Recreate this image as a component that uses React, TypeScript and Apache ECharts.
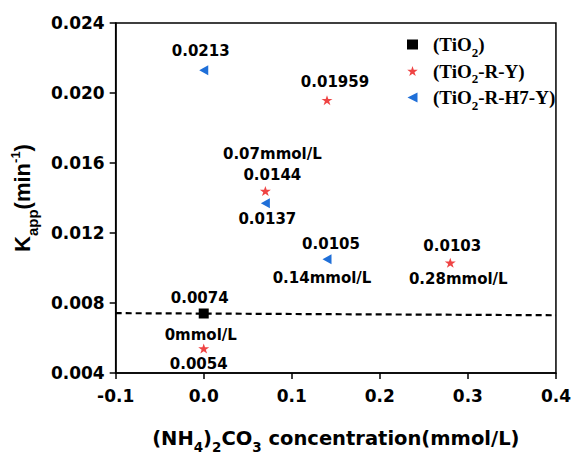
import React, { useEffect, useRef } from "react";
import * as echarts from "echarts";

// ---- data ----
const tiX = [0];
const tiY = [0.0074];
const tiLabels = ["0.0074"];

const ryX = [0, 0.07, 0.14, 0.28];
const ryY = [0.0054, 0.0144, 0.01959, 0.0103];
const ryLabels = ["0.0054", "0.0144", "0.01959", "0.0103"];

const h7X = [0, 0.07, 0.14];
const h7Y = [0.0213, 0.0137, 0.0105];
const h7Labels = ["0.0213", "0.0137", "0.0105"];

const concX = [0, 0.07, 0.14, 0.28];
const concY = [0.0074, 0.0144, 0.0105, 0.0103];
const concLabels = ["0mmol/L", "0.07mmol/L", "0.14mmol/L", "0.28mmol/L"];

const dashX = [-0.1, 0.4];
const dashY = [0.00742, 0.0073];

const xTicks = { min: -0.1, max: 0.4, interval: 0.1 };
const yTicks = { min: 0.004, max: 0.024, interval: 0.004 };

const seriesNames = ["TiO2", "TiO2-R-Y", "TiO2-R-H7-Y"];

// ---- label offsets (style) ----
const tiOffsets = [[-4, -16]];
const ryOffsets = [[-5, 15], [7, -16], [8, -18], [2, -17]];
const h7Offsets = [[-3, -19], [2, 16], [4, -15]];
const concOffsets = [[-3, 21], [7, -37], [-5, 19], [8, 16]];

const STAR =
  "path://M50,0L61.23,34.55L97.55,34.55L68.16,55.9L79.39,90.45L50,69.1L20.61,90.45L31.84,55.9L2.45,34.55L38.77,34.55Z";
const LEFT_TRI = "path://M0,50L100,0L100,100Z";

const SANS = "'DejaVu Sans', Arial, sans-serif";
const ARIAL = "'Liberation Sans', Arial, sans-serif";
const SERIF = "'Liberation Serif', 'Times New Roman', serif";

const labelStyle = {
  fontFamily: SANS,
  fontWeight: "bold" as const,
  fontSize: 15,
  color: "#000",
};

function pts(xs: number[], ys: number[], labels: string[], offs: number[][]) {
  return xs.map((x, i) => ({
    value: [x, ys[i]],
    label: {
      show: true,
      position: "inside",
      offset: offs[i],
      formatter: labels[i],
      ...labelStyle,
    },
  }));
}

export default function App() {
  const ref = useRef<HTMLDivElement>(null);
  useEffect(() => {
    if (!ref.current) return;
    const chart = echarts.init(ref.current, undefined, { renderer: "svg" });
    const legendRich = {
      b: { fontFamily: SERIF, fontWeight: "bold", fontSize: 19, color: "#000", lineHeight: 22, verticalAlign: "middle" },
      s: { fontFamily: SERIF, fontWeight: "bold", fontSize: 13, color: "#000", lineHeight: 22, verticalAlign: "bottom", padding: [0, 0, -3, 0] },
    };
    const legendText: Record<string, string> = {
      "TiO2": "{b|(TiO}{s|2}{b|)}",
      "TiO2-R-Y": "{b|(TiO}{s|2}{b|-R-Y)}",
      "TiO2-R-H7-Y": "{b|(TiO}{s|2}{b|-R-H7-Y)}",
    };
    const option: any = {
      animation: false,
      backgroundColor: "#fff",
      grid: {
        left: 107,
        right: 15,
        top: 23,
        bottom: 73,
        show: true,
        borderColor: "#000",
        borderWidth: 1.5,
        backgroundColor: "transparent",
      },
      legend: {
        data: [
          { name: seriesNames[0], icon: "rect" },
          { name: seriesNames[1], icon: STAR },
          { name: seriesNames[2], icon: LEFT_TRI },
        ],
        orient: "vertical",
        left: 402,
        top: 30,
        itemGap: 3,
        itemWidth: 11,
        itemHeight: 10,
        formatter: (n: string) => legendText[n],
        textStyle: { rich: legendRich, padding: [0, 0, 0, 10] },
      },
      xAxis: {
        type: "value",
        min: xTicks.min,
        max: xTicks.max,
        interval: xTicks.interval,
        splitLine: { show: false },
        axisLine: { show: true, onZero: false, lineStyle: { color: "#000", width: 1.5 } },
        axisTick: { show: true, length: 6, lineStyle: { color: "#000", width: 1.5 } },
        axisLabel: {
          margin: 14,
          fontFamily: SANS,
          fontWeight: "bold",
          fontSize: 17,
          color: "#000",
          formatter: (v: number) => v.toFixed(1),
        },
        name: "{b|(NH}{s|4}{b|)}{s|2}{b|CO}{s|3}{b| concentration(mmol/L)}",
        nameLocation: "middle",
        nameGap: 53,
        nameTextStyle: {
          rich: {
            b: { fontFamily: SANS, fontWeight: "bold", fontSize: 19.5, color: "#000", lineHeight: 24, verticalAlign: "middle" },
            s: { fontFamily: SANS, fontWeight: "bold", fontSize: 13.5, color: "#000", lineHeight: 24, verticalAlign: "bottom", padding: [0, 0, -4, 0] },
          },
        },
      },
      yAxis: {
        type: "value",
        min: yTicks.min,
        max: yTicks.max,
        interval: yTicks.interval,
        splitLine: { show: false },
        axisLine: { show: true, onZero: false, lineStyle: { color: "#000", width: 1.5 } },
        axisTick: { show: true, length: 6, lineStyle: { color: "#000", width: 1.5 } },
        axisLabel: {
          margin: 11,
          fontFamily: SANS,
          fontWeight: "bold",
          fontSize: 17,
          color: "#000",
          formatter: (v: number) => v.toFixed(3),
        },
        name: "{b|K}{s|app}{b|(min}{u|-1}{b|)}",
        nameLocation: "middle",
        nameGap: 74,
        nameRotate: 90,
        nameTextStyle: {
          rich: {
            b: { fontFamily: ARIAL, fontWeight: "bold", fontSize: 22, color: "#000", lineHeight: 28, verticalAlign: "middle" },
            s: { fontFamily: ARIAL, fontWeight: "bold", fontSize: 15, color: "#000", lineHeight: 28, verticalAlign: "bottom", padding: [0, 0, -4, 0] },
            u: { fontFamily: ARIAL, fontWeight: "bold", fontSize: 13, color: "#000", lineHeight: 28, verticalAlign: "top", padding: [1, 0, 0, 0] },
          },
        },
      },
      series: [
        {
          name: "dash",
          type: "line",
          data: dashX.map((x, i) => [x, dashY[i]]),
          symbol: "none",
          lineStyle: { color: "#000", width: 2.2, type: [6, 4] },
          silent: true,
          z: 1,
        },
        {
          name: seriesNames[0],
          type: "scatter",
          symbol: "rect",
          symbolSize: 10,
          itemStyle: { color: "#000", opacity: 1 },
          data: pts(tiX, tiY, tiLabels, tiOffsets),
          z: 3,
        },
        {
          name: seriesNames[1],
          type: "scatter",
          symbol: STAR,
          symbolSize: [11, 10],
          itemStyle: { color: "#ef4444", opacity: 1 },
          data: pts(ryX, ryY, ryLabels, ryOffsets),
          z: 3,
        },
        {
          name: seriesNames[2],
          type: "scatter",
          symbol: LEFT_TRI,
          symbolSize: [9, 10],
          itemStyle: { color: "#1f6fd8", opacity: 1 },
          data: pts(h7X, h7Y, h7Labels, h7Offsets),
          z: 3,
        },
        {
          name: "conc",
          type: "scatter",
          symbolSize: 0,
          itemStyle: { color: "transparent", opacity: 1 },
          data: pts(concX, concY, concLabels, concOffsets),
          silent: true,
          z: 4,
        },
      ],
    };
    chart.setOption(option);
    return () => chart.dispose();
  }, []);
  return (
    <div
      ref={ref}
      style={{ position: "fixed", left: 0, top: 0, width: 574, height: 459, background: "#fff" }}
    />
  );
}
